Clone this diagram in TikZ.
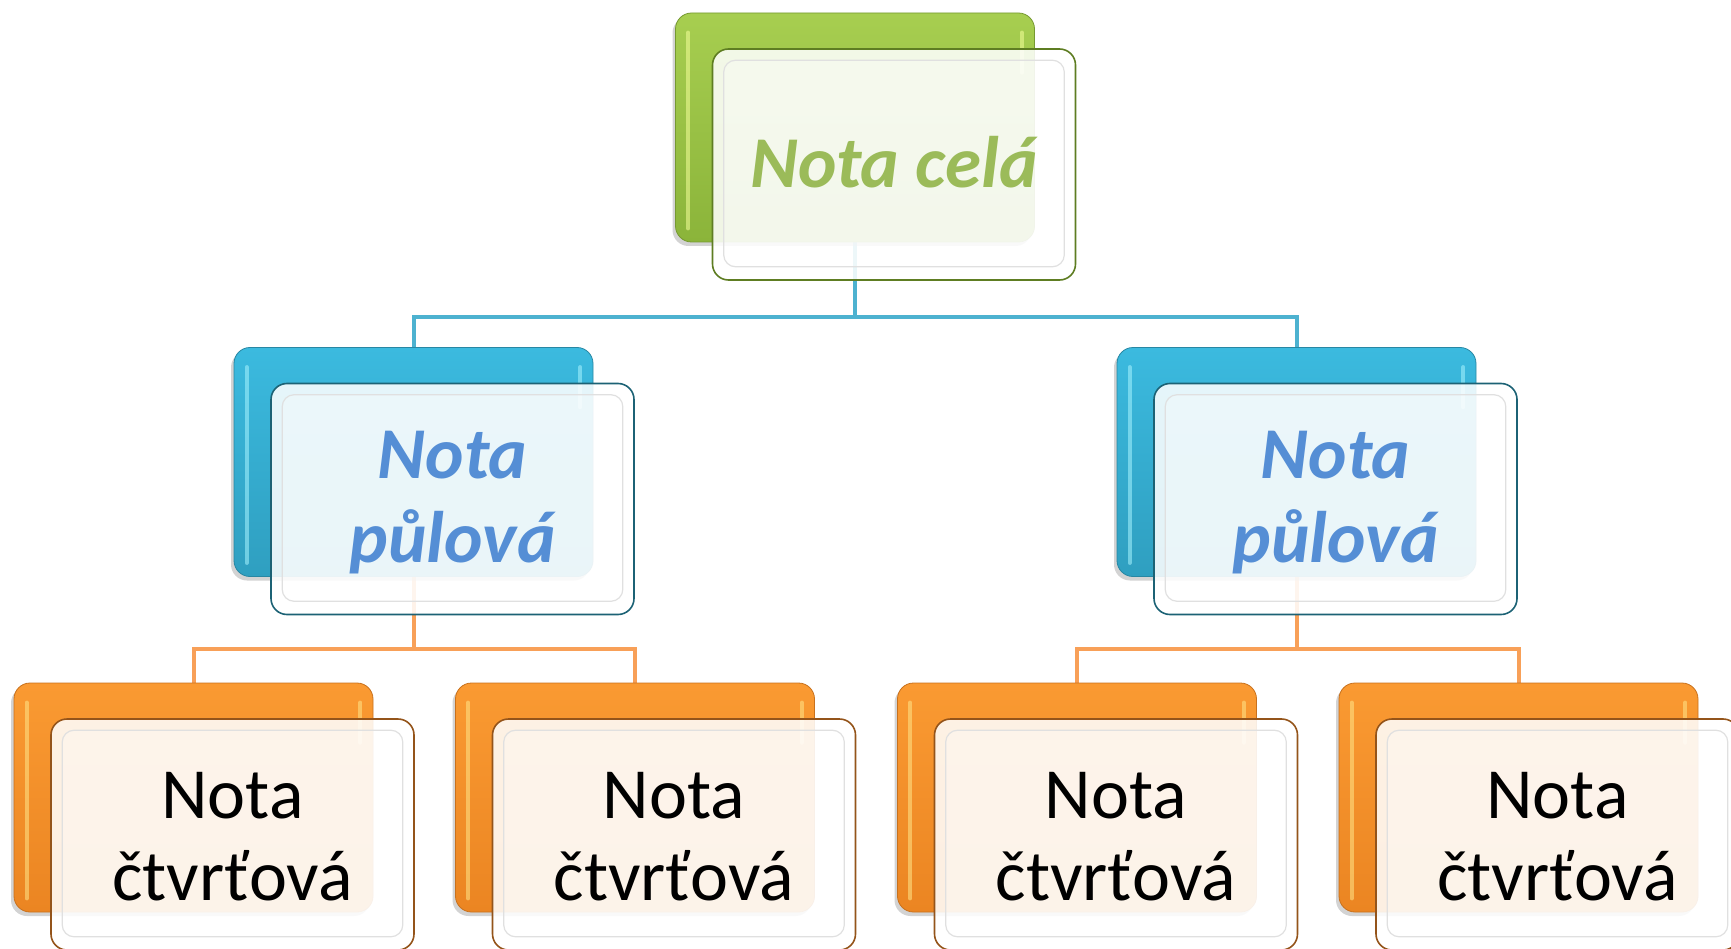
\documentclass[tikz,border=0pt]{standalone}
\usepackage{fontspec}
\setmainfont{Carlito}
\usetikzlibrary{shadows}
\pgfdeclarelayer{background}
\pgfsetlayers{background,main}
\definecolor{gTop}{HTML}{A7CE50}
\definecolor{gBot}{HTML}{8BB43A}
\definecolor{gEdge}{HTML}{5E7D22}
\definecolor{bTop}{HTML}{3BBADF}
\definecolor{bBot}{HTML}{2F9FC0}
\definecolor{bEdge}{HTML}{1C6275}
\definecolor{oTop}{HTML}{FA9A32}
\definecolor{oBot}{HTML}{EB8522}
\definecolor{oEdge}{HTML}{94541A}
\definecolor{gText}{HTML}{9BBB59}
\definecolor{bText}{HTML}{558ED5}
\definecolor{bLine}{HTML}{4DB2D0}
\definecolor{oLine}{HTML}{F8A058}
\definecolor{gGloss}{HTML}{F4FF9A}
\definecolor{bGloss}{HTML}{A8F4FF}
\definecolor{oGloss}{HTML}{FFE68A}
\tikzset{
  backbox/.style 2 args={rectangle, rounded corners=16pt, minimum width=359pt,
    minimum height=229pt, inner sep=0pt, top color=#1, bottom color=#2,
    draw=#2!85!black, line width=0.8pt,
    drop shadow={shadow xshift=-3pt, shadow yshift=-4pt, opacity=0.35}},
  frontbox/.style={rectangle, rounded corners=16pt, minimum width=363pt,
    minimum height=231pt, inner sep=0pt, fill=white, fill opacity=0.87,
    text opacity=1, draw=#1, line width=1.6pt, align=center},
  gloss/.style={line width=4pt, line cap=round, draw=#1, draw opacity=0.55},
  inner/.style={rounded corners=12pt, draw=black!12, line width=1.2pt, fill=white, fill opacity=0.25},
  bconn/.style={draw=bLine, line width=4pt},
  oconn/.style={draw=oLine, line width=4pt},
  celafont/.style={font=\fontsize{73}{86}\selectfont\bfseries\itshape, text=gText},
  pulfont/.style={font=\fontsize{73}{84}\selectfont\bfseries\itshape, text=bText},
  ctvfont/.style={font=\fontsize{72}{82}\selectfont, text=black},
}
\newcommand{\pairbox}[8]{%
  % #1 name, #2 x, #3 y, #4 top, #5 bottom, #6 edge, #7 gloss, #8 text node
  \node[backbox={#4}{#5}] (#1b) at (#2,#3) {};
  \draw[gloss=#7] ([xshift=13pt,yshift=-20pt]#1b.north west) -- ([xshift=13pt,yshift=14pt]#1b.south west);
  \draw[gloss=#7] ([xshift=-13pt,yshift=-20pt]#1b.north east) -- ([xshift=-13pt,yshift=-60pt]#1b.north east);
  \node[frontbox=#6] (#1f) at ([xshift=39pt,yshift=-37pt]#1b.center) {};
  \path[inner] ([xshift=12pt,yshift=-12pt]#1f.north west) rectangle ([xshift=-12pt,yshift=14pt]#1f.south east);
  #8
}
\begin{document}
\begin{tikzpicture}[x=1pt,y=-1pt]
\useasboundingbox (0,0) rectangle (1731,949);
\pairbox{g}{855}{127.5}{gTop}{gBot}{gEdge}{gGloss}{\node[celafont] (gt) at ([yshift=2pt]gf.center) {Nota celá};}
\pairbox{bl}{413.5}{462}{bTop}{bBot}{bEdge}{bGloss}{\node[pulfont, align=center] (blt) at ([yshift=-4pt]blf.center) {Nota\\půlová};}
\pairbox{br}{1296.5}{462}{bTop}{bBot}{bEdge}{bGloss}{\node[pulfont, align=center] (brt) at ([yshift=-4pt]brf.center) {Nota\\půlová};}
\pairbox{oa}{193.5}{797.5}{oTop}{oBot}{oEdge}{oGloss}{\node[ctvfont, align=center] (oat) at ([yshift=-2pt]oaf.center) {Nota\\čtvrťová};}
\pairbox{ob}{635}{797.5}{oTop}{oBot}{oEdge}{oGloss}{\node[ctvfont, align=center] (obt) at ([yshift=-2pt]obf.center) {Nota\\čtvrťová};}
\pairbox{oc}{1077}{797.5}{oTop}{oBot}{oEdge}{oGloss}{\node[ctvfont, align=center] (oct) at ([yshift=-2pt]ocf.center) {Nota\\čtvrťová};}
\pairbox{od}{1518.5}{797.5}{oTop}{oBot}{oEdge}{oGloss}{\node[ctvfont, align=center] (odt) at ([yshift=-2pt]odf.center) {Nota\\čtvrťová};}
\coordinate (j0) at (855,317);
\coordinate (jl) at (413.5,649);
\coordinate (jr) at (1296.5,649);
\begin{pgfonlayer}{background}
  \draw[bconn] (gb.south) -- (j0);
  \draw[bconn] (blb.north) -- (blb.north |- j0) -- (brb.north |- j0) -- (brb.north);
  \draw[oconn] (blb.south) -- (jl);
  \draw[oconn] (oab.north) -- (oab.north |- jl) -- (obb.north |- jl) -- (obb.north);
  \draw[oconn] (brb.south) -- (jr);
  \draw[oconn] (ocb.north) -- (ocb.north |- jr) -- (odb.north |- jr) -- (odb.north);
\end{pgfonlayer}
\end{tikzpicture}
\end{document}
